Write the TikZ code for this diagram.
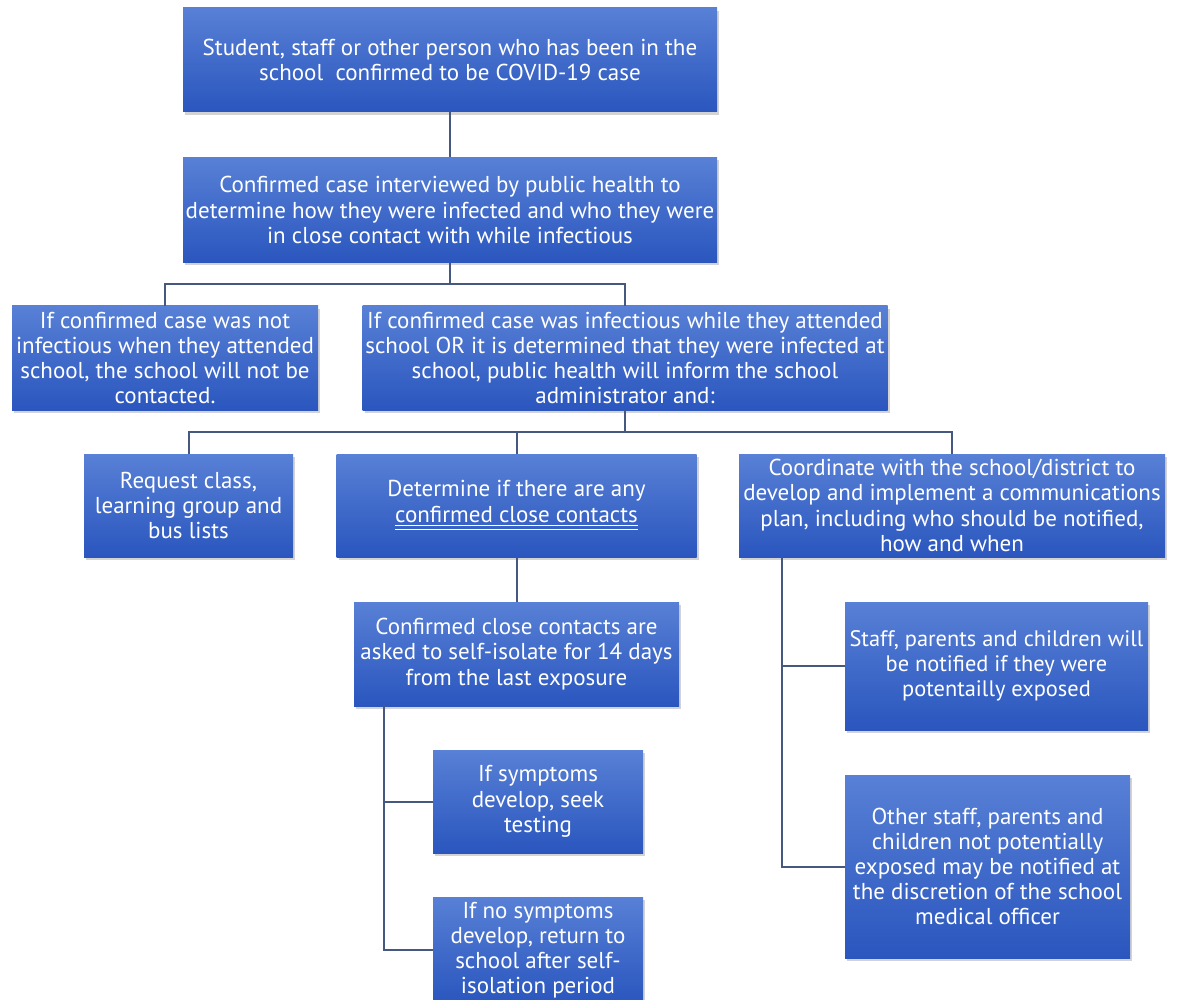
\documentclass[tikz,border=0pt]{standalone}
\usepackage{fontspec}
\setmainfont{PT Sans}
\usetikzlibrary{shadows}
\definecolor{box-top}{RGB}{88, 128, 214}
\definecolor{box-bot}{RGB}{42, 86, 190}
\definecolor{link-col}{RGB}{70, 88, 128}
\newcommand{\dblline}[1]{$\underline{\underline{\hbox{#1}}}$}

\begin{document}
\begin{tikzpicture}[x=0.5pt,y=-0.5pt,
  box/.style={rectangle, top color=box-top, bottom color=box-bot, text=white, align=center,
    font=\fontsize{11.5}{12.6}\selectfont, inner xsep=2pt, inner ysep=1pt,
    drop shadow={shadow xshift=1pt, shadow yshift=-1.5pt, opacity=0.35}},
  link/.style={draw=link-col, line width=1pt}]
\useasboundingbox (0,0) rectangle (1178,1000);

\node [box, minimum width=267pt, minimum height=52pt] (confirmed) at (450,60) {Student, staff or other person who has been in the\\school\ \ confirmed to be COVID-19 case};
\node [box, minimum width=267pt, minimum height=52.5pt, inner xsep=0pt] (interview) at (450,210) {Confirmed case interviewed by public health to\\determine how they were infected and who they were\\in close contact with while infectious};

\node [box, minimum width=153pt, minimum height=52pt] (notinfect) at (165,358) {If confirmed case was not\\infectious when they attended\\school, the school will not be\\contacted.};
\node [box, minimum width=262.5pt, minimum height=52pt, inner xsep=0pt] (infect) at (625,358) {If confirmed case was infectious while they attended\\school OR it is determined that they were infected at\\school, public health will inform the school\\administrator and:};

\node [box, minimum width=104.5pt, minimum height=51.5pt] (request) at (188.5,505.5) {Request class,\\learning group and\\bus lists};
\node [box, minimum width=180pt, minimum height=51.5pt] (determine) at (516.5,505.5) {Determine if there are any\\\dblline{confirmed close contacts}};
\node [box, minimum width=213pt, minimum height=51.5pt] (commplan) at (952,505.5) {Coordinate with the school/district to\\develop and implement a communications\\plan, including who should be notified,\\how and when};

\node [box, minimum width=162.5pt, minimum height=52pt] (isolate) at (516.5,654) {Confirmed close contacts are\\asked to self-isolate for 14 days\\from the last exposure};
\node [box, minimum width=105pt, minimum height=51.5pt] (symptoms) at (538,801.5) {If symptoms\\develop, seek\\testing};
\node [box, minimum width=105pt, minimum height=53pt] (nosymptoms) at (538,950) {If no symptoms\\develop, return to\\school after self-\\isolation period};

\node [box, minimum width=151.5pt, minimum height=64pt, inner xsep=0pt, font=\fontsize{11.2}{12.6}\selectfont] (exposed) at (996.5,666) {Staff, parents and children will\\be notified if they were\\potentailly exposed};
\node [box, minimum width=142.5pt, minimum height=91.5pt] (notexposed) at (987.5,866.5) {Other staff, parents and\\children not potentially\\exposed may be notified at\\the discretion of the school\\medical officer};

% connectors
\coordinate (split-a) at (450,284);
\coordinate (split-b) at (625,432);
\draw [link] (confirmed) -- (interview);
\draw [link] (interview) -- (split-a);
\draw [link] (notinfect) |- (split-a) -| (infect);
\draw [link] (infect) -- (split-b);
\draw [link] (request) |- (split-b) -| (commplan);
\draw [link] (determine) -- (determine.north |- split-b);
\draw [link] (determine) -- (isolate);
\draw [link] ([xshift=15pt]isolate.south west) |- (symptoms);
\draw [link] ([xshift=15pt]isolate.south west) |- (nosymptoms);
\draw [link] ([xshift=21.5pt]commplan.south west) |- (exposed);
\draw [link] ([xshift=21.5pt]commplan.south west) |- (notexposed);
\end{tikzpicture}
\end{document}
